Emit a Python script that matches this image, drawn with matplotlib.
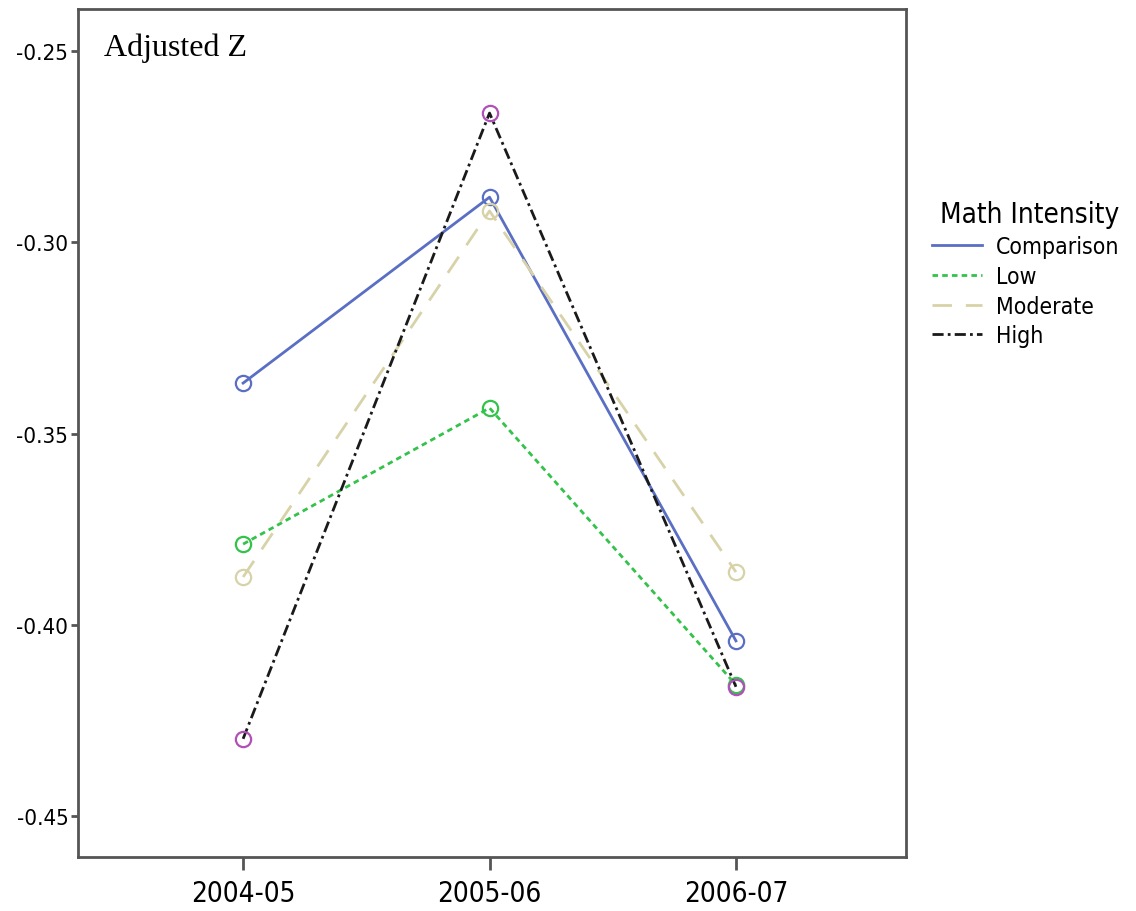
import matplotlib
matplotlib.use("Agg")
import matplotlib.pyplot as plt

years = ["2004-05", "2005-06", "2006-07"]
comparison = [-0.3368, -0.2882, -0.4042]
low = [-0.3789, -0.3433, -0.4157]
moderate = [-0.3875, -0.2918, -0.3862]
high = [-0.4298, -0.2662, -0.4162]

series = [
    ("Comparison", comparison, "#5a6fc4", "#5a6fc4", "-"),
    ("Low", low, "#33c24a", "#33c24a", (0, (2, 1.5))),
    ("Moderate", moderate, "#d8d2a8", "#d8d2a8", (0, (7, 5))),
    ("High", high, "#1a1a1a", "#b050b8", (0, (4, 1.5, 1, 1.5))),
]

plt.rcParams['font.family'] = ['DejaVu Sans']
plt.rcParams['font.stretch'] = 'condensed'

fig = plt.figure(figsize=(11.36, 9.12), dpi=100)
ax = fig.add_axes([78 / 1136, 1 - 858 / 912, (906 - 78) / 1136, (858 - 10) / 912])

x = list(range(len(years)))
for name, vals, lc, mc, ls in series:
    ax.plot(x, vals, color=lc, linestyle=ls, linewidth=2, label=name)
    ax.plot(x, vals, linestyle="none", marker="o", markersize=11,
            markerfacecolor="none", markeredgecolor=mc, markeredgewidth=1.6)

ax.set_xlim(-0.67, 2.69)
ax.set_ylim(-0.4607, -0.239)
ax.set_xticks(x)
ax.set_xticklabels(years, fontsize=20)
ax.set_yticks([-0.25, -0.30, -0.35, -0.40, -0.45])
ax.set_yticklabels(["-0.25", "-0.30", "-0.35", "-0.40", "-0.45"], fontsize=16)
ax.tick_params(axis="x", length=9, width=2, color="#555555", pad=7)
ax.tick_params(axis="y", length=5, width=2, color="#555555", pad=2)
for sp in ax.spines.values():
    sp.set_color("#555555")
    sp.set_linewidth(2)

ax.text(0.032, 0.955, "Adjusted Z", transform=ax.transAxes, fontsize=23,
        family="Liberation Serif", stretch="normal", va="center", ha="left")

leg = fig.legend(*ax.get_legend_handles_labels(), loc="upper left",
                 bbox_to_anchor=(932 / 1136, 1 - 201 / 912), frameon=False,
                 title="Math Intensity", fontsize=16.5, title_fontsize=20,
                 handlelength=2.2, handletextpad=0.6, labelspacing=0.3,
                 borderaxespad=0, borderpad=0, alignment="right")

fig.savefig("out.png", dpi=100)
